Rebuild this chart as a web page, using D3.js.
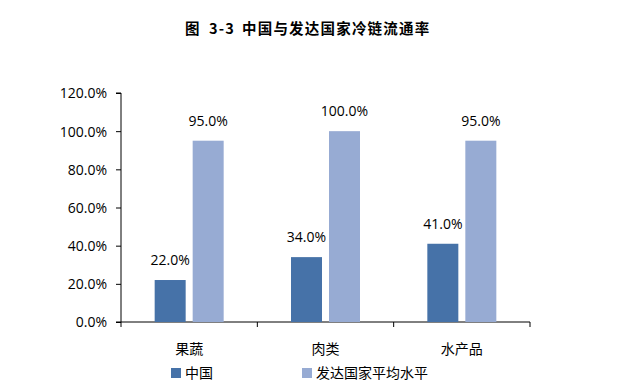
<!DOCTYPE html>
<html>
<head>
<meta charset="utf-8">
<script src="https://cdn.jsdelivr.net/npm/d3@7"></script>
<style>
body { margin: 0; background: #fff; }
svg text { font-family: "Open Sans", "Noto Sans CJK SC", sans-serif; fill: #000; }
</style>
</head>
<body>
<div id="chart"></div>
<script>
// datos del gráfico
var categories = ['果蔬', '肉类', '水产品'];
var seriesNames = ['中国', '发达国家平均水平'];
var chinaValues = [22.0, 34.0, 41.0];
var developedValues = [95.0, 100.0, 95.0];
var yTicks = [0, 20, 40, 60, 80, 100, 120];
var colors = ['#4672A8', '#97ABD3'];
var titleParts = ['图', '3-3', '中国与发达国家冷链流通率'];

var width = 636, height = 392;
var svg = d3.select('#chart').append('svg')
    .attr('width', width)
    .attr('height', height);

// título (en tres partes con separación amplia)
var titleX = [185, 209, 242];
svg.append('text')
    .attr('y', 34)
    .style('font-family', '"Noto Sans CJK SC", sans-serif')
    .style('font-size', '14.5px')
    .style('font-weight', 'bold')
    .style('letter-spacing', '1.2px')
    .selectAll('tspan').data(titleParts).enter().append('tspan')
    .attr('x', function (d, i) { return titleX[i]; })
    .text(function (d) { return d; });

var leftX = 121, rightX = 530, topY = 93, bottomY = 322;

var x = d3.scaleBand().domain(categories).range([leftX, rightX]);
var y = d3.scaleLinear().domain([0, 120]).range([bottomY, topY]);

var barW = 31, gap = 7;

// eje Y
var yAxis = d3.axisLeft(y).tickValues(yTicks).tickSize(5)
    .tickFormat(function (d) { return d.toFixed(1) + '%'; });
var gy = svg.append('g').attr('transform', 'translate(' + leftX + ',0)').call(yAxis);
gy.select('.domain').attr('stroke', '#000').attr('d', 'M-5,' + topY + 'H0V' + bottomY + 'H-5');
gy.selectAll('.tick line').attr('stroke', '#000');
gy.selectAll('.tick text').attr('x', -14).attr('dy', '0.35em')
    .style('font-size', '14px');

// eje X
var gx = svg.append('g').attr('transform', 'translate(0,' + bottomY + ')');
gx.append('line').attr('x1', leftX).attr('x2', rightX).attr('stroke', '#000');
var boundaries = categories.map(function (c) { return x(c); }).concat([rightX]);
gx.selectAll('line.tk').data(boundaries).enter().append('line')
    .attr('class', 'tk')
    .attr('x1', function (d) { return d; }).attr('x2', function (d) { return d; })
    .attr('y1', 0).attr('y2', 5).attr('stroke', '#000');
gx.selectAll('text').data(categories).enter().append('text')
    .attr('x', function (d) { return x(d) + x.bandwidth() / 2; })
    .attr('y', 32)
    .attr('text-anchor', 'middle')
    .style('font-family', '"Noto Sans CJK SC", sans-serif')
    .style('font-size', '14px')
    .text(function (d) { return d; });

// barras
var series = [chinaValues, developedValues];
series.forEach(function (vals, s) {
    var bx = function (i) {
        var c = x(categories[i]) + x.bandwidth() / 2;
        return s === 0 ? c - gap / 2 - barW : c + gap / 2;
    };
    svg.append('g').selectAll('rect').data(vals).enter().append('rect')
        .attr('x', function (d, i) { return bx(i); })
        .attr('y', function (d) { return y(d); })
        .attr('width', barW)
        .attr('height', function (d) { return y(0) - y(d); })
        .attr('fill', colors[s]);
    svg.append('g').selectAll('text').data(vals).enter().append('text')
        .attr('x', function (d, i) { return bx(i) + barW / 2; })
        .attr('y', function (d) { return y(d) - 15; })
        .attr('text-anchor', 'middle')
        .style('font-size', '14px')
        .text(function (d) { return d.toFixed(1) + '%'; });
});

// leyenda
var legendX = [171, 302];
seriesNames.forEach(function (name, i) {
    svg.append('rect')
        .attr('x', legendX[i]).attr('y', 368)
        .attr('width', 10).attr('height', 10)
        .attr('fill', colors[i]);
    svg.append('text')
        .attr('x', legendX[i] + 14).attr('y', 378)
        .style('font-family', '"Noto Sans CJK SC", sans-serif')
        .style('font-size', '14px')
        .text(name);
});
</script>
</body>
</html>
